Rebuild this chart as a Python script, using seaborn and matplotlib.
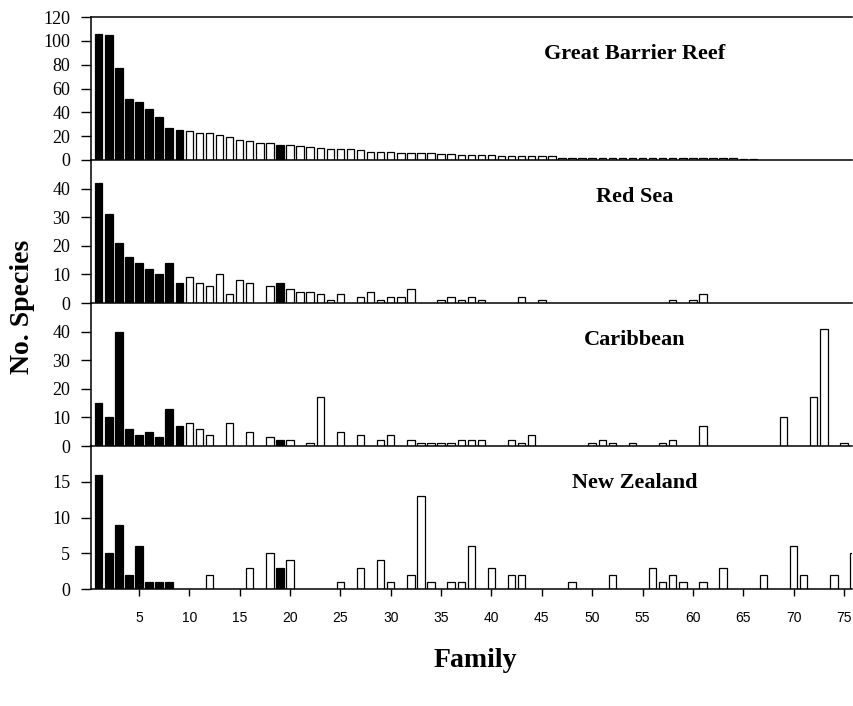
import numpy as np
import pandas as pd
import matplotlib
matplotlib.use("Agg")
import matplotlib.pyplot as plt
import seaborn as sns

# Species counts per family (families ranked 1..76)
families = list(range(1, 77))
dark_families = [1, 2, 3, 4, 5, 6, 7, 8, 9, 19]
regions = ["Great Barrier Reef", "Red Sea", "Caribbean", "New Zealand"]

great_barrier_reef = [
    106, 105, 77, 51, 49, 43, 36, 27, 25, 24,
    23, 23, 21, 19, 17, 16, 14, 14, 13, 13,
    12, 11, 10, 9, 9, 9, 8, 7, 7, 7,
    6, 6, 6, 6, 5, 5, 4, 4, 4, 4,
    3, 3, 3, 3, 3, 3, 2, 2, 2, 2,
    2, 2, 2, 2, 2, 2, 2, 2, 2, 2,
    2, 2, 2, 2, 1, 1, 0, 0, 0, 0,
    0, 0, 0, 0, 0, 0,
]
red_sea = [
    42, 31, 21, 16, 14, 12, 10, 14, 7, 9,
    7, 6, 10, 3, 8, 7, 0, 6, 7, 5,
    4, 4, 3, 1, 3, 0, 2, 4, 1, 2,
    2, 5, 0, 0, 1, 2, 1, 2, 1, 0,
    0, 0, 2, 0, 1, 0, 0, 0, 0, 0,
    0, 0, 0, 0, 0, 0, 0, 1, 0, 1,
    3, 0, 0, 0, 0, 0, 0, 0, 0, 0,
    0, 0, 0, 0, 0, 0,
]
caribbean = [
    15, 10, 40, 6, 4, 5, 3, 13, 7, 8,
    6, 4, 0, 8, 0, 5, 0, 3, 2, 2,
    0, 1, 17, 0, 5, 0, 4, 0, 2, 4,
    0, 2, 1, 1, 1, 1, 2, 2, 2, 0,
    0, 2, 1, 4, 0, 0, 0, 0, 0, 1,
    2, 1, 0, 1, 0, 0, 1, 2, 0, 0,
    7, 0, 0, 0, 0, 0, 0, 0, 10, 0,
    0, 17, 41, 0, 1, 0,
]
new_zealand = [
    16, 5, 9, 2, 6, 1, 1, 1, 0, 0,
    0, 2, 0, 0, 0, 3, 0, 5, 3, 4,
    0, 0, 0, 0, 1, 0, 3, 0, 4, 1,
    0, 2, 13, 1, 0, 1, 1, 6, 0, 3,
    0, 2, 2, 0, 0, 0, 0, 1, 0, 0,
    0, 2, 0, 0, 0, 3, 1, 2, 1, 0,
    1, 0, 3, 0, 0, 0, 2, 0, 0, 6,
    2, 0, 0, 2, 0, 5,
]
region_counts = [great_barrier_reef, red_sea, caribbean, new_zealand]

y_max = [120, 50, 50, 20]
y_ticks = [
    [0, 20, 40, 60, 80, 100, 120],
    [0, 10, 20, 30, 40],
    [0, 10, 20, 30, 40],
    [0, 5, 10, 15],
]
x_ticks = list(range(5, 80, 5))

sns.set_style("ticks")
plt.rcParams["font.family"] = ["Liberation Serif", "DejaVu Serif"]
plt.rcParams.update({
    "text.color": "black",
    "axes.labelcolor": "black",
    "xtick.color": "black",
    "ytick.color": "black",
    "axes.edgecolor": "black",
})

fig, axes = plt.subplots(4, 1, figsize=(8.54, 7.06), dpi=100, sharex=True,
                         gridspec_kw=dict(hspace=0))
fig.subplots_adjust(left=91 / 854, right=852 / 854,
                    top=1 - 17 / 706, bottom=1 - 589 / 706)

for i, (ax, name, counts) in enumerate(zip(axes, regions, region_counts)):
    df = pd.DataFrame({"family": families, "count": counts})
    df["shade"] = np.where(df["family"].isin(dark_families), "dark", "light")
    df = df[df["count"] > 0]
    sns.barplot(data=df, x="family", y="count", hue="shade",
                palette={"dark": "black", "light": "white"},
                native_scale=True, width=0.74, edgecolor="black",
                linewidth=0.9, dodge=False, legend=False, errorbar=None,
                ax=ax)
    ax.patch.set_facecolor("none")
    ax.set_xlim(0.235, 75.8)
    ax.set_ylim(0, y_max[i])
    ax.set_yticks(y_ticks[i])
    ax.set_xlabel("")
    ax.set_ylabel("")
    ax.spines["right"].set_visible(False)
    ax.spines["top"].set_visible(i == 0)
    for s in ("left", "bottom", "top"):
        ax.spines[s].set_linewidth(1.1)
        ax.spines[s].set_color("black")
        ax.spines[s].set_zorder(5)
    ax.tick_params(axis="y", direction="out", length=7, width=1.0,
                   labelsize=13, pad=8, colors="black")
    ax.text(0.715, 0.74, name, transform=ax.transAxes, ha="center",
            va="center", fontsize=16, fontweight="bold", color="black")
    if i < 3:
        ax.tick_params(axis="x", length=0, labelbottom=False)

bottom = axes[-1]
bottom.set_xticks(x_ticks, labels=[str(t) for t in x_ticks],
                  fontfamily="Liberation Sans", fontsize=10)
bottom.tick_params(axis="x", direction="out", length=5, width=1.0, pad=11)

fig.text(0.557, 0.065, "Family", ha="center", va="center",
         fontsize=20, fontweight="bold", color="black")
fig.text(0.026, 0.565, "No. Species", ha="center", va="center",
         rotation=90, fontsize=20, fontweight="bold", color="black")

fig.savefig("out.png", dpi=100)
